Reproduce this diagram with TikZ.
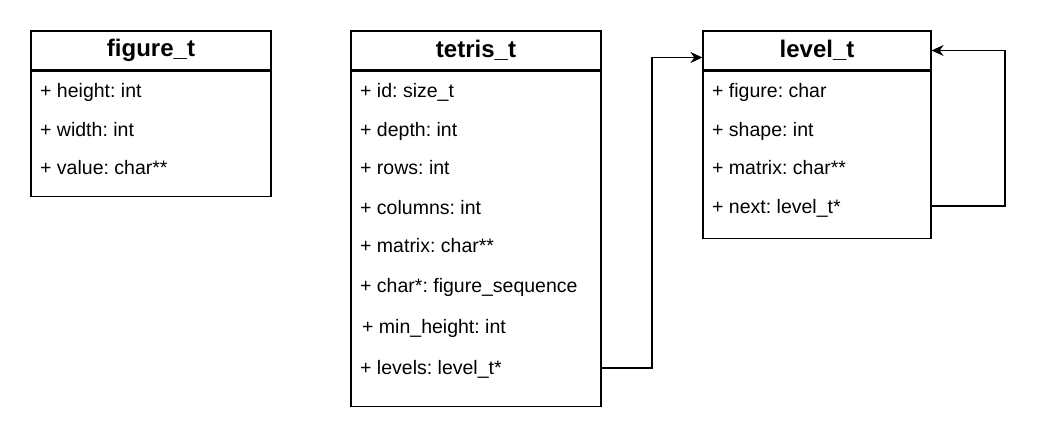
\documentclass[tikz,border=0pt]{standalone}
\usepackage{fontspec}
\setmainfont{Liberation Sans}
\usetikzlibrary{arrows.meta}
\tikzset{
  testa/.style={draw, line width=1.2pt, minimum height=39pt, inner sep=0pt, font=\fontsize{24}{28}\selectfont\bfseries},
  corpo/.style={draw, line width=1.2pt, anchor=north, inner sep=0pt},
  campo/.style={anchor=base west, inner sep=0pt, font=\fontsize{19.5}{23}\selectfont\frenchspacing},
  freccia/.style={line width=1.2pt, -{Stealth[length=12pt,width=11pt]}}
}
\begin{document}
\begin{tikzpicture}[x=1pt, y=-1pt]
  \useasboundingbox (0,0) rectangle (1049,441);
  % figure_t
  \node[testa, minimum width=240pt] (fh) at (151,50.5) {figure\_t};
  \node[corpo, minimum width=240pt, minimum height=125pt] (fb) at (fh.south) {};
  \node[campo] (f1) at (40,98) {+ height: int};
  \node[campo] (f2) at (40,137) {+ width: int};
  \node[campo] (f3) at (40,175) {+ value: char**};
  % tetris_t
  \node[testa, minimum width=250pt] (th) at (476,50.5) {tetris\_t};
  \node[corpo, minimum width=250pt, minimum height=335pt] (tb) at (th.south) {};
  \node[campo] (t1) at (360,98) {+ id: size\_t};
  \node[campo] (t2) at (360,136.5) {+ depth: int};
  \node[campo] (t3) at (360,175) {+ rows: int};
  \node[campo] (t4) at (360,214) {+ columns: int};
  \node[campo] (t5) at (360,252) {+ matrix: char**};
  \node[campo] (t6) at (360,292.5) {+ char*: figure\_sequence};
  \node[campo] (t7) at (362,333) {+ min\_height: int};
  \node[campo] (t8) at (360,374.5) {+ levels: level\_t*};
  % level_t
  \node[testa, minimum width=228pt] (lh) at (817,50.5) {level\_t};
  \node[corpo, minimum width=228pt, minimum height=167pt] (lb) at (lh.south) {};
  \node[campo] (l1) at (712,98) {+ figure: char};
  \node[campo] (l2) at (712,136.5) {+ shape: int};
  \node[campo] (l3) at (712,175) {+ matrix: char**};
  \node[campo] (l4) at (712,213) {+ next: level\_t*};
  % collegamenti
  \draw[freccia] (tb.east |- 0,368) -- (652,368) |- ([yshift=-7pt]lh.west);
  \draw[freccia] (lb.east |- 0,206) -- (1005,206) |- (lh.east);
\end{tikzpicture}
\end{document}
